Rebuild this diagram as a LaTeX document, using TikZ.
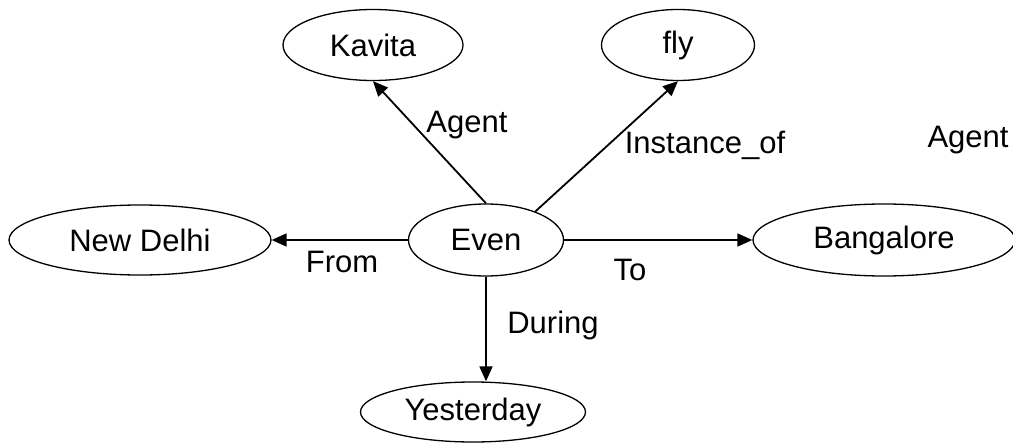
\documentclass[tikz,border=0pt]{standalone}
\usepackage{fontspec}
\setmainfont{Liberation Sans}
\usetikzlibrary{shapes.geometric, arrows.meta, positioning, calc}

\begin{document}
\begin{tikzpicture}[x=1pt, y=-1pt,
    concept/.style={ellipse, draw, line width=1.3pt, inner sep=0pt, font=\fontsize{31}{36}\selectfont},
    rel/.style={-{Triangle[length=15pt,width=13pt]}, line width=1.8pt},
    lbl/.style={font=\fontsize{31}{36}\selectfont}]
                \useasboundingbox (0,0) rectangle (1013,444);
                \node[concept, minimum width=155pt, minimum height=72pt] (even) at (486,240) {Even};
                \node[concept, minimum width=180pt, minimum height=71pt] (kavita) at (373,45) {Kavita};
                \node[concept, minimum width=153pt, minimum height=71pt] (fly) at (678,45) {fly};
                \node[concept, minimum width=262pt, minimum height=70pt] (newdelhi) at (140,240) {New Delhi};
                \node[concept, minimum width=262pt, minimum height=72pt] (bangalore) at (884,240) {Bangalore};
                \node[concept, minimum width=225pt, minimum height=60pt] (yesterday) at (473,412) {Yesterday};
                \draw[rel] (even.north) -- (kavita.south);
                \draw[rel] (even.30) -- (fly.south);
                \draw[rel] (even.west) -- (newdelhi.east);
                \draw[rel] (even.east) -- (bangalore.west);
                \draw[rel] (even.south) -- (even.south |- yesterday.north);
                \foreach \name/\pos/\txt in {agent/{(467,125)}/Agent, inst/{(705,145)}/Instance\_of, agentb/{(968,140)}/Agent,
                    from/{(342,262)}/From, to/{(630,270)}/To, during/{(553,325)}/During} {
                    \node[lbl] (\name) at \pos {\txt};
                }
            \end{tikzpicture}
\end{document}
